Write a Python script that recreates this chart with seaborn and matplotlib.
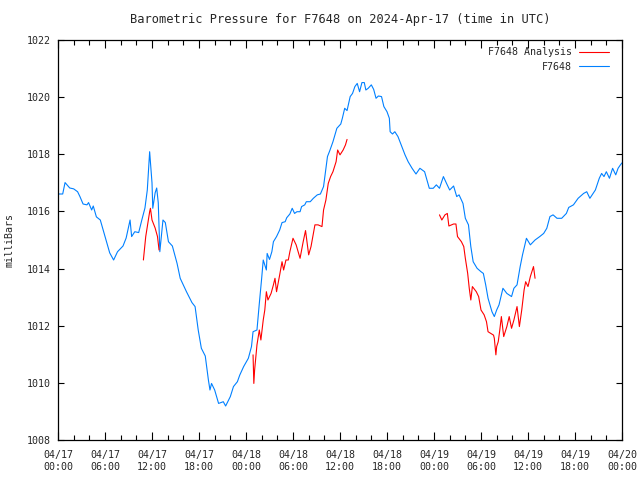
import matplotlib
matplotlib.use("Agg")
import matplotlib.pyplot as plt
import matplotlib.dates as mdates
from matplotlib.lines import Line2D
import numpy as np
import pandas as pd
import seaborn as sns

# hours since 2024-04-17 00:00 UTC, pressure in mb
station_hours = [
    0.0, 0.6, 0.9, 1.5, 2.0, 2.5, 2.8, 3.2, 3.7, 3.9, 4.3, 4.5, 4.9, 5.4, 6.0,
    6.6, 7.1, 7.6, 8.3, 8.7, 9.2, 9.4, 9.8, 10.3, 10.7, 11.1, 11.4, 11.7, 12.0,
    12.1, 12.4, 12.6, 12.8, 13.0, 13.4, 13.7, 14.1, 14.6, 15.2, 15.6, 16.4,
    17.1, 17.5, 17.9, 18.3, 18.8, 19.2, 19.4, 19.6, 20.0, 20.5, 21.1, 21.4,
    22.0, 22.4, 22.9, 23.2, 23.7, 24.3, 24.7, 24.9, 25.4, 25.7, 26.0, 26.2,
    26.6, 26.7, 27.0, 27.3, 27.5, 27.9, 28.3, 28.6, 29.0, 29.2, 29.6, 29.9,
    30.2, 30.5, 30.9, 31.1, 31.5, 31.7, 32.2, 32.6, 33.1, 33.5, 33.9, 34.4,
    34.7, 35.1, 35.6, 36.1, 36.3, 36.6, 36.9, 37.3, 37.6, 37.9, 38.2, 38.5,
    38.8, 39.1, 39.3, 39.6, 40.0, 40.3, 40.6, 40.9, 41.3, 41.6, 42.0, 42.3,
    42.4, 42.7, 43.0, 43.4, 43.9, 44.3, 44.7, 45.2, 45.7, 46.2, 46.8, 47.1,
    47.4, 47.9, 48.3, 48.7, 49.2, 49.6, 50.0, 50.5, 50.9, 51.2, 51.7, 52.0,
    52.4, 52.7, 53.0, 53.5, 54.0, 54.3, 54.6, 54.9, 55.4, 55.7, 56.0, 56.3,
    56.6, 56.8, 57.3, 57.9, 58.2, 58.6, 59.0, 59.3, 59.8, 60.3, 60.9, 61.5,
    62.0, 62.4, 62.8, 63.2, 63.7, 64.3, 64.9, 65.2, 65.8, 66.4, 67.1, 67.5,
    67.9, 68.6, 69.1, 69.4, 69.7, 70.0, 70.4, 70.8, 71.2, 71.5, 71.8, 72.0,
]
station_mb = [
    1016.61, 1016.61, 1017.01, 1016.82, 1016.79, 1016.69, 1016.52, 1016.26,
    1016.23, 1016.31, 1016.05, 1016.19, 1015.81, 1015.70, 1015.12, 1014.55,
    1014.30, 1014.59, 1014.79, 1015.07, 1015.70, 1015.12, 1015.29, 1015.26,
    1015.70, 1016.12, 1016.75, 1018.09, 1017.00, 1016.11, 1016.65, 1016.82,
    1016.30, 1014.59, 1015.70, 1015.61, 1014.94, 1014.79, 1014.18, 1013.66,
    1013.19, 1012.81, 1012.67, 1011.85, 1011.21, 1010.94, 1010.10, 1009.75,
    1009.98, 1009.75, 1009.28, 1009.34, 1009.19, 1009.52, 1009.87, 1010.04,
    1010.27, 1010.57, 1010.86, 1011.27, 1011.79, 1011.85, 1012.78, 1013.66,
    1014.30, 1013.95, 1014.53, 1014.32, 1014.59, 1014.94, 1015.12, 1015.35,
    1015.61, 1015.64, 1015.78, 1015.91, 1016.11, 1015.93, 1015.99, 1015.99,
    1016.17, 1016.23, 1016.34, 1016.34, 1016.46, 1016.58, 1016.61, 1016.87,
    1017.92, 1018.13, 1018.44, 1018.91, 1019.06, 1019.26, 1019.61, 1019.53,
    1020.02, 1020.13, 1020.37, 1020.48, 1020.19, 1020.51, 1020.51, 1020.25,
    1020.31, 1020.43, 1020.27, 1019.96, 1020.04, 1020.02, 1019.67, 1019.49,
    1019.26, 1018.79, 1018.71, 1018.79, 1018.62, 1018.27, 1017.98, 1017.74,
    1017.51, 1017.31, 1017.51, 1017.39, 1017.10, 1016.81, 1016.81, 1016.93,
    1016.81, 1017.22, 1016.98, 1016.75, 1016.89, 1016.52, 1016.58, 1016.28,
    1015.76, 1015.53, 1014.77, 1014.24, 1014.01, 1013.89, 1013.83, 1013.43,
    1012.96, 1012.49, 1012.32, 1012.55, 1012.73, 1013.08, 1013.31, 1013.13,
    1013.02, 1013.31, 1013.43, 1014.07, 1014.48, 1015.06, 1014.83, 1015.00,
    1015.12, 1015.23, 1015.41, 1015.82, 1015.88, 1015.76, 1015.76, 1015.93,
    1016.14, 1016.23, 1016.46, 1016.63, 1016.69, 1016.46, 1016.75, 1017.16,
    1017.33, 1017.22, 1017.39, 1017.16, 1017.51, 1017.28, 1017.51, 1017.63,
    1017.70,
]

# analysis comes in three separate runs
analysis_run = [1] * 8 + [2] * 41 + [3] * 42
analysis_hours = [
    10.9, 11.2, 11.7, 11.8, 12.0, 12.4, 12.7, 12.9,
    24.9, 25.0, 25.1, 25.4, 25.7, 25.9, 26.2, 26.4, 26.6, 26.8, 27.2, 27.5,
    27.7, 27.9, 28.3, 28.6, 28.8, 29.1, 29.4, 29.6, 30.0, 30.4, 30.9, 31.3,
    31.6, 32.0, 32.3, 32.8, 33.2, 33.7, 33.9, 34.2, 34.5, 34.8, 35.1, 35.5,
    35.7, 36.0, 36.4, 36.7, 36.9,
    48.7, 49.0, 49.4, 49.7, 49.9, 50.5, 50.8, 51.0, 51.5, 51.8, 52.0, 52.3,
    52.5, 52.7, 52.9, 53.4, 53.7, 54.0, 54.4, 54.7, 54.9, 55.6, 55.7, 55.9,
    56.0, 56.2, 56.4, 56.6, 56.9, 57.3, 57.6, 57.9, 58.2, 58.6, 58.9, 59.2,
    59.5, 59.7, 60.0, 60.3, 60.7, 60.9,
]
analysis_mb = [
    1014.30, 1015.12, 1015.99, 1016.11, 1015.70, 1015.42, 1015.12, 1014.65,
    1010.98, 1009.98, 1010.45, 1011.33, 1011.85, 1011.50, 1012.20, 1012.55,
    1013.19, 1012.90, 1013.13, 1013.43, 1013.66, 1013.19, 1013.78, 1014.24,
    1013.95, 1014.30, 1014.30, 1014.59, 1015.06, 1014.83, 1014.36, 1014.94,
    1015.33, 1014.48, 1014.77, 1015.53, 1015.53, 1015.47, 1016.05, 1016.40,
    1016.98, 1017.22, 1017.39, 1017.74, 1018.15, 1017.98, 1018.15, 1018.33,
    1018.52,
    1015.88, 1015.70, 1015.88, 1015.93, 1015.49, 1015.56, 1015.56, 1015.12,
    1014.94, 1014.77, 1014.36, 1013.83, 1013.31, 1012.90, 1013.37, 1013.19,
    1013.02, 1012.55, 1012.38, 1012.14, 1011.79, 1011.67, 1011.56, 1010.98,
    1011.27, 1011.44, 1011.85, 1012.32, 1011.62, 1011.97, 1012.32, 1011.91,
    1012.20, 1012.67, 1011.97, 1012.55, 1013.25, 1013.54, 1013.37, 1013.72,
    1014.07, 1013.66,
]

start = pd.Timestamp("2024-04-17 00:00")
station = pd.DataFrame({
    "time": start + pd.to_timedelta(station_hours, unit="h"),
    "mb": station_mb,
})
analysis = pd.DataFrame({
    "time": start + pd.to_timedelta(analysis_hours, unit="h"),
    "mb": analysis_mb,
    "run": analysis_run,
})

BLUE = "#0080ff"
RED = "#ff0000"

sns.set_style("ticks")
plt.rcParams["font.family"] = ["DejaVu Sans Mono"]
plt.rcParams["font.size"] = 7.2

fig = plt.figure(figsize=(6.4, 4.8), dpi=100)
ax = fig.add_axes([58 / 640, 40 / 480, 564 / 640, 400 / 480])

sns.lineplot(data=station, x="time", y="mb", color=BLUE, lw=0.8, ax=ax,
             sort=False)
sns.lineplot(data=analysis, x="time", y="mb", units="run", estimator=None,
             color=RED, lw=0.8, ax=ax, sort=False)

ax.set_xlim(start, start + pd.Timedelta(hours=72))
ax.set_ylim(1008, 1022)
ax.set_yticks(np.arange(1008, 1023, 2))

ax.xaxis.set_major_locator(mdates.HourLocator(byhour=[0, 6, 12, 18]))
ax.xaxis.set_minor_locator(mdates.HourLocator(byhour=range(0, 24, 2)))
ax.xaxis.set_major_formatter(mdates.DateFormatter("%m/%d\n%H:%M"))

ax.tick_params(axis="both", which="both", direction="in", top=True,
               right=True, color="black", width=0.8)
ax.tick_params(axis="x", which="major", length=6, pad=7)
ax.tick_params(axis="x", which="minor", length=3.5)
ax.tick_params(axis="y", which="major", length=4.5, pad=5)
for lab in ax.get_xticklabels():
    lab.set_linespacing(1.25)

for sp in ax.spines.values():
    sp.set_color("black")
    sp.set_linewidth(0.9)

ax.set_xlabel("")
ax.set_ylabel("milliBars")
ax.yaxis.set_label_coords(-0.077, 0.5)
ax.set_title("Barometric Pressure for F7648 on 2024-Apr-17 (time in UTC)",
             pad=12)

handles = [Line2D([], [], color=RED, lw=0.8), Line2D([], [], color=BLUE, lw=0.8)]
ax.legend(handles, ["F7648 Analysis", "F7648"], loc="upper right",
          frameon=False, markerfirst=False, handlelength=3.0,
          handletextpad=0.7, labelspacing=0.45, borderaxespad=0.6,
          borderpad=0.3, bbox_to_anchor=(0.993, 1.004))

fig.savefig("out.png", dpi=100)
